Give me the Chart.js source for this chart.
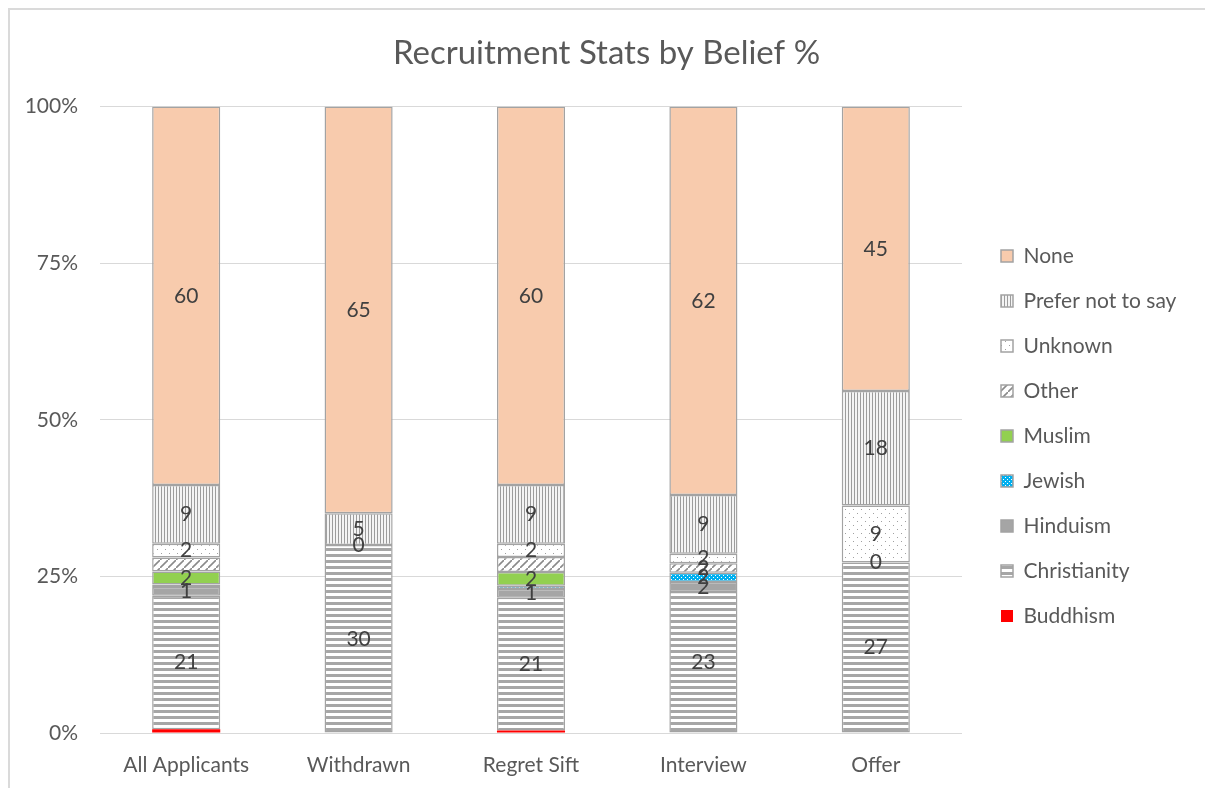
<!DOCTYPE html>
<html>
<head>
<meta charset="utf-8">
<script src="https://cdn.jsdelivr.net/npm/chart.js@4.4.1/dist/chart.umd.min.js"></script>
<style>
  html, body { margin: 0; padding: 0; background: #fff; }
  #frame { position: absolute; left: 8px; top: 8px; right: 0; bottom: 2px;
           border-left: 2px solid #dadada; border-top: 2px solid #dadada; }
  #wrap { position: absolute; left: 8px; top: 8px; width: 1197px; height: 782px; }
</style>
</head>
<body>
<div id="frame"></div>
<div id="wrap"><canvas id="chart" width="1197" height="782"></canvas></div>
<script>
// Categories and series (% of each stage)
const categories = ["All Applicants", "Withdrawn", "Regret Sift", "Interview", "Offer"]
const buddhism = [0.6, null, 0.4, null, null]
const christianity = [21.3, 30, 21.2, 22.5, 27.2]
const hinduism = [1.4, null, 1.4, 1.6, null]
const jewish = [0.4, null, 0.5, 1.5, null]
const muslim = [2.1, null, 2.2, null, null]
const other = [2.2, null, 2.4, 1.5, 0]
const unknown = [2.2, 0, 2.1, 1.5, 9.1]
const preferNot = [9.4, 5.1, 9.4, 9.4, 18.3]
const none = [60.4, 64.9, 60.4, 62, 45.4]
const yTicks = [0, 25, 50, 75, 100]

// data labels that were left off in the original
const hiddenLabels = ["Buddhism:0", "Buddhism:2", "Jewish:0", "Jewish:2", "Other:0", "Other:2"]

const FONT = "Lato, 'Open Sans', sans-serif"
const TEXT = "#595959"
const EDGE = "#a3a3a3"

function makePattern(w, h, draw) {
  const c = document.createElement("canvas")
  c.width = w
  c.height = h
  const g = c.getContext("2d")
  draw(g)
  return c.getContext("2d").createPattern(c, "repeat")
}

const vertLines = makePattern(3, 3, (g) => {
  g.fillStyle = "#f4f4f4"
  g.fillRect(0, 0, 3, 3)
  g.fillStyle = "#9c9c9c"
  g.fillRect(0, 0, 1, 3)
})
const horizLines = makePattern(6, 6, (g) => {
  g.fillStyle = "#ffffff"
  g.fillRect(0, 0, 6, 6)
  g.fillStyle = "#a6a6a6"
  g.fillRect(0, 0, 6, 3)
})
const dots = makePattern(8, 8, (g) => {
  g.fillStyle = "#ffffff"
  g.fillRect(0, 0, 8, 8)
  g.fillStyle = "#a0a0a0"
  g.fillRect(1, 1, 1, 1)
  g.fillRect(5, 5, 1, 1)
})
const diag = makePattern(8, 8, (g) => {
  g.fillStyle = "#ffffff"
  g.fillRect(0, 0, 8, 8)
  g.strokeStyle = "#8a8a8a"
  g.lineWidth = 1.6
  g.beginPath()
  g.moveTo(-1, 9)
  g.lineTo(9, -1)
  g.stroke()
})
const blueDots = makePattern(4, 4, (g) => {
  g.fillStyle = "#00b0f0"
  g.fillRect(0, 0, 4, 4)
  g.fillStyle = "#ffffff"
  g.fillRect(1, 1, 1, 1)
  g.fillRect(3, 3, 1, 1)
})

function series(label, data, fill, border) {
  return {
    label: label,
    data: data,
    backgroundColor: fill,
    borderColor: EDGE,
    borderWidth: border === undefined ? 1.5 : border,
    borderSkipped: false,
  }
}

const datasets = [
  series("Buddhism", buddhism, "#ff0000", 0),
  series("Christianity", christianity, horizLines),
  series("Hinduism", hinduism, "#a5a5a5"),
  series("Jewish", jewish, blueDots),
  series("Muslim", muslim, "#92d050"),
  series("Other", other, diag),
  series("Unknown", unknown, dots),
  series("Prefer not to say", preferNot, vertLines),
  series("None", none, "#f8cbad"),
]

const segmentLabels = {
  id: "segmentLabels",
  afterDatasetsDraw(chart) {
    const ctx = chart.ctx
    ctx.save()
    ctx.font = "21px " + FONT
    ctx.fillStyle = "#404040"
    ctx.textAlign = "center"
    ctx.textBaseline = "middle"
    chart.data.datasets.forEach((ds, i) => {
      chart.getDatasetMeta(i).data.forEach((bar, j) => {
        const v = ds.data[j]
        if (v === null || hiddenLabels.includes(ds.label + ":" + j)) return
        ctx.fillText(String(Math.round(v)), bar.x, (bar.y + bar.base) / 2)
      })
    })
    ctx.restore()
  },
}

// fixed legend width, then nudge it to where the original puts it
const legendPlace = {
  id: "legendPlace",
  beforeLayout(chart) {
    const l = chart.legend
    if (l && !l._fixed) {
      const fit = l.fit.bind(l)
      l.fit = function () {
        fit()
        this.width = 243
      }
      l._fixed = true
    }
  },
  afterLayout(chart) {
    const l = chart.legend
    l.left += 15
    l.right += 15
    l.top += 37
    l.bottom += 37
  },
}

new Chart(document.getElementById("chart"), {
  type: "bar",
  data: { labels: categories, datasets: datasets },
  plugins: [segmentLabels, legendPlace],
  options: {
    responsive: false,
    animation: false,
    layout: { padding: 0 },
    datasets: { bar: { categoryPercentage: 1, barPercentage: 0.395 } },
    plugins: {
      title: {
        display: true,
        text: "Recruitment Stats by Belief %",
        color: TEXT,
        font: { family: FONT, size: 33, weight: "normal" },
        padding: { top: 26, bottom: 33 },
      },
      legend: {
        position: "right",
        reverse: true,
        labels: {
          color: TEXT,
          font: { family: FONT, size: 21 },
          boxWidth: 12,
          boxHeight: 12,
          padding: 24,
        },
      },
      tooltip: { enabled: false },
    },
    scales: {
      x: {
        stacked: true,
        grid: { display: false, drawTicks: false },
        border: { display: false },
        ticks: { color: TEXT, font: { family: FONT, size: 21 }, padding: 20 },
        afterFit: (s) => { s.height = 57 },
      },
      y: {
        stacked: true,
        min: 0,
        max: 100,
        afterBuildTicks: (s) => { s.ticks = yTicks.map((v) => ({ value: v })) },
        grid: { color: "#d9d9d9", lineWidth: 1, drawTicks: false },
        border: { display: false },
        ticks: { color: TEXT, font: { family: FONT, size: 21 }, padding: 22, callback: (v) => v + "%" },
        afterFit: (s) => { s.width = 92 },
      },
    },
  },
})
</script>
</body>
</html>
